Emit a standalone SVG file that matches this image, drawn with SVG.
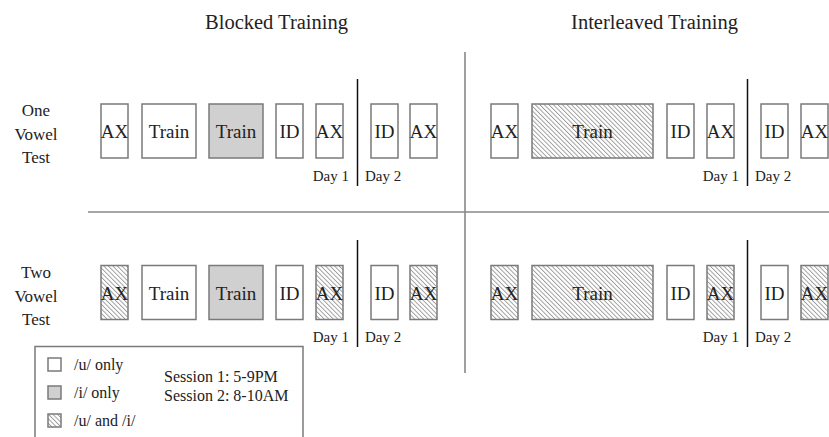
<svg xmlns="http://www.w3.org/2000/svg" width="829" height="437" viewBox="0 0 829 437">
<defs>
<pattern id="hatch" patternUnits="userSpaceOnUse" width="3.2" height="3.2" patternTransform="rotate(-45)">
<rect width="3.2" height="3.2" fill="#fff"/>
<line x1="0.5" y1="0" x2="0.5" y2="3.2" stroke="#8a8a8a" stroke-width="0.8"/>
</pattern>
</defs>
<style>
text{font-family:"Liberation Serif","DejaVu Serif","Times New Roman",serif;fill:#222}
.box rect{stroke:#7a7a7a;stroke-width:1.5}
.u{fill:#fff}
.i{fill:#d0d0d0}
.ui{fill:url(#hatch)}
.bt{font-size:19px;text-anchor:middle}
.title{font-size:20.5px;text-anchor:middle}
.row{font-size:17px;text-anchor:middle}
.day{font-size:15px}
.leg{font-size:16px}
.grid{stroke:#a0a0a0;stroke-width:2;fill:none}
.hgrid{stroke:#888;stroke-width:1.5;fill:none}
.div{stroke:#111;stroke-width:1.5;fill:none}
</style>
<rect width="829" height="437" fill="#fff"/>

<g id="titles">
<text class="title" x="276.5" y="29">Blocked Training</text>
<text class="title" x="654.5" y="29">Interleaved Training</text>
</g>

<g id="row-labels">
<text class="row" x="36" y="116">One</text>
<text class="row" x="36" y="140">Vowel</text>
<text class="row" x="36" y="163">Test</text>
<text class="row" x="36" y="278">Two</text>
<text class="row" x="36" y="302">Vowel</text>
<text class="row" x="36" y="325">Test</text>
</g>

<g id="connectors">
<line class="grid" x1="465" y1="52" x2="465" y2="373"/>
<line class="hgrid" x1="88" y1="212" x2="829" y2="212"/>
<line class="div" x1="357.5" y1="79" x2="357.5" y2="186"/>
<line class="div" x1="357.5" y1="240" x2="357.5" y2="347"/>
<line class="div" x1="747.5" y1="79" x2="747.5" y2="186"/>
<line class="div" x1="747.5" y1="240" x2="747.5" y2="347"/>
</g>

<g id="days">
<text class="day" x="349" y="181" text-anchor="end">Day 1</text>
<text class="day" x="365" y="181">Day 2</text>
<text class="day" x="349" y="342" text-anchor="end">Day 1</text>
<text class="day" x="365" y="342">Day 2</text>
<text class="day" x="739" y="181" text-anchor="end">Day 1</text>
<text class="day" x="755" y="181">Day 2</text>
<text class="day" x="739" y="342" text-anchor="end">Day 1</text>
<text class="day" x="755" y="342">Day 2</text>
</g>

<!-- Blocked, one vowel -->
<g id="b1-ax1" class="box"><rect class="u" x="101" y="104" width="27" height="54"/><text class="bt" x="114.5" y="138">AX</text></g>
<g id="b1-train1" class="box"><rect class="u" x="142" y="104" width="54" height="54"/><text class="bt" x="169" y="138">Train</text></g>
<g id="b1-train2" class="box"><rect class="i" x="209" y="104" width="54" height="54"/><text class="bt" x="236" y="138">Train</text></g>
<g id="b1-id1" class="box"><rect class="u" x="276" y="104" width="27" height="54"/><text class="bt" x="289.5" y="138">ID</text></g>
<g id="b1-ax2" class="box"><rect class="u" x="316" y="104" width="27" height="54"/><text class="bt" x="329.5" y="138">AX</text></g>
<g id="b1-id2" class="box"><rect class="u" x="371" y="104" width="27" height="54"/><text class="bt" x="384.5" y="138">ID</text></g>
<g id="b1-ax3" class="box"><rect class="u" x="410" y="104" width="27" height="54"/><text class="bt" x="423.5" y="138">AX</text></g>

<!-- Interleaved, one vowel -->
<g id="i1-ax1" class="box"><rect class="u" x="491" y="104" width="27" height="54"/><text class="bt" x="504.5" y="138">AX</text></g>
<g id="i1-train" class="box"><rect class="ui" x="532" y="104" width="121" height="54"/><text class="bt" x="592.5" y="138">Train</text></g>
<g id="i1-id1" class="box"><rect class="u" x="667" y="104" width="27" height="54"/><text class="bt" x="680.5" y="138">ID</text></g>
<g id="i1-ax2" class="box"><rect class="u" x="707" y="104" width="27" height="54"/><text class="bt" x="720.5" y="138">AX</text></g>
<g id="i1-id2" class="box"><rect class="u" x="761" y="104" width="27" height="54"/><text class="bt" x="774.5" y="138">ID</text></g>
<g id="i1-ax3" class="box"><rect class="u" x="801" y="104" width="27" height="54"/><text class="bt" x="814.5" y="138">AX</text></g>

<!-- Blocked, two vowel -->
<g id="b2-ax1" class="box"><rect class="ui" x="101" y="265.5" width="27" height="54"/><text class="bt" x="114.5" y="299.5">AX</text></g>
<g id="b2-train1" class="box"><rect class="u" x="142" y="265.5" width="54" height="54"/><text class="bt" x="169" y="299.5">Train</text></g>
<g id="b2-train2" class="box"><rect class="i" x="209" y="265.5" width="54" height="54"/><text class="bt" x="236" y="299.5">Train</text></g>
<g id="b2-id1" class="box"><rect class="u" x="276" y="265.5" width="27" height="54"/><text class="bt" x="289.5" y="299.5">ID</text></g>
<g id="b2-ax2" class="box"><rect class="ui" x="316" y="265.5" width="27" height="54"/><text class="bt" x="329.5" y="299.5">AX</text></g>
<g id="b2-id2" class="box"><rect class="u" x="371" y="265.5" width="27" height="54"/><text class="bt" x="384.5" y="299.5">ID</text></g>
<g id="b2-ax3" class="box"><rect class="ui" x="410" y="265.5" width="27" height="54"/><text class="bt" x="423.5" y="299.5">AX</text></g>

<!-- Interleaved, two vowel -->
<g id="i2-ax1" class="box"><rect class="ui" x="491" y="265.5" width="27" height="54"/><text class="bt" x="504.5" y="299.5">AX</text></g>
<g id="i2-train" class="box"><rect class="ui" x="532" y="265.5" width="121" height="54"/><text class="bt" x="592.5" y="299.5">Train</text></g>
<g id="i2-id1" class="box"><rect class="u" x="667" y="265.5" width="27" height="54"/><text class="bt" x="680.5" y="299.5">ID</text></g>
<g id="i2-ax2" class="box"><rect class="ui" x="707" y="265.5" width="27" height="54"/><text class="bt" x="720.5" y="299.5">AX</text></g>
<g id="i2-id2" class="box"><rect class="u" x="761" y="265.5" width="27" height="54"/><text class="bt" x="774.5" y="299.5">ID</text></g>
<g id="i2-ax3" class="box"><rect class="ui" x="801" y="265.5" width="27" height="54"/><text class="bt" x="814.5" y="299.5">AX</text></g>

<g id="legend">
<rect x="35" y="346.5" width="268" height="100" fill="#fff" stroke="#7a7a7a" stroke-width="1.5"/>
<g class="box">
<rect class="u" x="48" y="358" width="13" height="13"/>
<rect class="i" x="48" y="386" width="13" height="13"/>
<rect class="ui" x="48" y="414" width="13" height="13"/>
</g>
<text class="leg" x="74" y="370">/u/ only</text>
<text class="leg" x="74" y="398">/i/ only</text>
<text class="leg" x="74" y="426">/u/ and /i/</text>
<text class="leg" x="164" y="382">Session 1: 5-9PM</text>
<text class="leg" x="164" y="401">Session 2: 8-10AM</text>
</g>
</svg>
